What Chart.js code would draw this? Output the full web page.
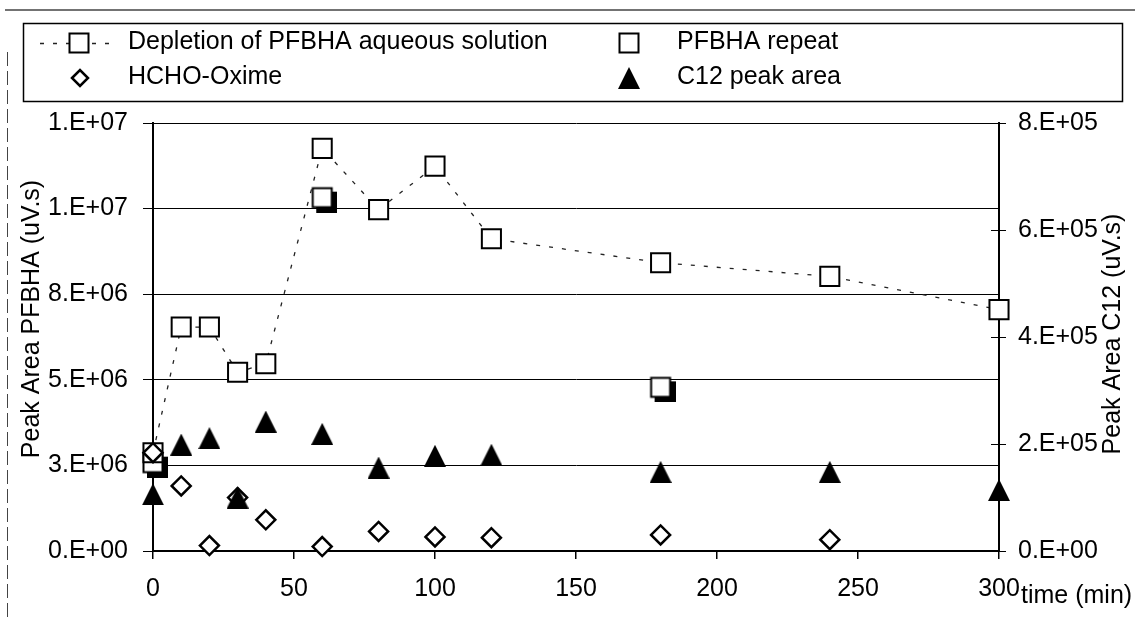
<!DOCTYPE html>
<html>
<head>
<meta charset="utf-8">
<script src="https://cdn.jsdelivr.net/npm/chart.js@4.4.0/dist/chart.umd.min.js"></script>
<style>
  html, body { margin: 0; padding: 0; background: #fff; }
  #wrap { width: 1135px; height: 618px; }
</style>
</head>
<body>
<div id="wrap"><canvas id="c" width="1135" height="618"></canvas></div>
<script>
// values
const depletionTime = [0, 10, 20, 30, 40, 60, 80, 100, 120, 180, 240, 300];
const depletionArea = [2.87e6, 6.54e6, 6.54e6, 5.22e6, 5.47e6, 11.76e6, 9.97e6, 11.24e6, 9.12e6, 8.42e6, 8.02e6, 7.05e6];

const repeatTime = [0, 60, 180];
const repeatArea = [2.58e6, 10.32e6, 4.78e6];

const oximeTime = [0, 10, 20, 30, 40, 60, 80, 100, 120, 180, 240];
const oximeArea = [2.87e6, 1.9e6, 0.16e6, 1.56e6, 0.91e6, 0.13e6, 0.57e6, 0.41e6, 0.39e6, 0.47e6, 0.33e6];

const c12Time = [0, 10, 20, 30, 40, 60, 80, 100, 120, 180, 240, 300];
const c12Area = [1.06e5, 1.99e5, 2.11e5, 1.0e5, 2.42e5, 2.19e5, 1.56e5, 1.78e5, 1.80e5, 1.48e5, 1.48e5, 1.14e5];

const seriesLabels = ['Depletion of PFBHA aqueous solution', 'PFBHA repeat', 'HCHO-Oxime', 'C12 peak area'];
const leftTitle = 'Peak Area PFBHA (uV.s)';
const rightTitle = 'Peak Area C12 (uV.s)';
const xTitle = 'time (min)';

const FONT = "'Liberation Sans', Arial, sans-serif";

function pts(xs, ys) {
    return xs.map((x, i) => ({ x: x, y: ys[i] }));
}

// Excel style 1.E+07 labels
function excelExp(v) {
    const parts = Number(v).toExponential(0).split('e');
    const ex = parseInt(parts[1]);
    return parts[0] + '.E' + (ex < 0 ? '-' : '+') + String(Math.abs(ex)).padStart(2, '0');
}

function makeTriangle(size) {
    const c = document.createElement('canvas');
    c.width = size;
    c.height = size;
    const g = c.getContext('2d');
    g.fillStyle = '#000';
    g.beginPath();
    g.moveTo(size / 2, 0);
    g.lineTo(size, size);
    g.lineTo(0, size);
    g.closePath();
    g.fill();
    return c;
}
const triangle = makeTriangle(22);

// open square with a dark drop shadow, as the repeat markers look in the scan
function makeShadowSquare() {
    const c = document.createElement('canvas');
    c.width = 30;
    c.height = 30;
    const g = c.getContext('2d');
    g.fillStyle = '#000';
    g.fillRect(9, 9, 21, 21);
    g.fillStyle = '#fff';
    g.fillRect(5.5, 5.5, 19, 19);
    g.strokeStyle = '#000';
    g.lineWidth = 2;
    g.strokeRect(5.5, 5.5, 19, 19);
    return c;
}
const shadowSquare = makeShadowSquare();

function drawMarker(ctx, kind, x, y) {
    ctx.save();
    ctx.strokeStyle = '#000';
    ctx.fillStyle = '#fff';
    if (kind === 'rect') {
        ctx.lineWidth = 2;
        ctx.beginPath();
        ctx.rect(x - 9.5, y - 9.5, 19, 19);
        ctx.fill();
        ctx.stroke();
    } else if (kind === 'diamond') {
        ctx.lineWidth = 2.5;
        ctx.beginPath();
        ctx.moveTo(x - 8, y);
        ctx.lineTo(x, y - 8);
        ctx.lineTo(x + 8, y);
        ctx.lineTo(x, y + 8);
        ctx.closePath();
        ctx.fill();
        ctx.stroke();
    } else if (kind === 'triangle') {
        ctx.drawImage(triangle, x - 11, y - 11);
    }
    ctx.restore();
}

const decor = {
    id: 'decor',
    beforeDraw(chart) {
        const ctx = chart.ctx;
        ctx.save();
        ctx.fillStyle = '#fff';
        ctx.fillRect(0, 0, chart.width, chart.height);
        ctx.strokeStyle = '#444';
        ctx.lineWidth = 1.5;
        ctx.beginPath();
        ctx.moveTo(5, 10);
        ctx.lineTo(chart.width, 10);
        ctx.stroke();
        ctx.setLineDash([14, 5]);
        ctx.lineWidth = 1;
        ctx.beginPath();
        ctx.moveTo(7.5, 52);
        ctx.lineTo(7.5, chart.height);
        ctx.stroke();
        ctx.restore();
    }
};

const extras = {
    id: 'extras',
    afterDraw(chart) {
        const ctx = chart.ctx;
        const area = chart.chartArea;
        const y2 = chart.scales.y2;
        ctx.save();

        // cross ticks on the right axis
        ctx.strokeStyle = '#000';
        ctx.lineWidth = 1;
        y2.ticks.forEach(t => {
            const py = Math.round(y2.getPixelForValue(t.value)) + 0.5;
            ctx.beginPath();
            ctx.moveTo(area.right - 8, py);
            ctx.lineTo(area.right, py);
            ctx.stroke();
        });

        // axis titles
        ctx.fillStyle = '#000';
        ctx.font = '25px ' + FONT;
        ctx.textAlign = 'center';
        ctx.textBaseline = 'middle';
        const midY = (area.top + area.bottom) / 2;
        ctx.save();
        ctx.translate(32, midY - 18);
        ctx.rotate(-Math.PI / 2);
        ctx.fillText(leftTitle, 0, 0);
        ctx.restore();
        ctx.save();
        ctx.translate(area.right + 114, midY - 3);
        ctx.rotate(-Math.PI / 2);
        ctx.fillText(rightTitle, 0, 0);
        ctx.restore();
        ctx.textAlign = 'left';
        ctx.textBaseline = 'alphabetic';
        ctx.fillText(xTitle, area.right + 22, area.bottom + 52);

        // legend box
        ctx.strokeStyle = '#000';
        ctx.lineWidth = 1.5;
        ctx.strokeRect(23.5, 23.5, 1099, 78);

        ctx.font = '25px ' + FONT;
        ctx.textBaseline = 'middle';
        ctx.textAlign = 'left';

        // depletion: dashed line sample + square
        ctx.save();
        ctx.strokeStyle = '#222';
        ctx.lineWidth = 1.3;
        ctx.setLineDash([4, 9]);
        ctx.beginPath();
        ctx.moveTo(40, 43.5);
        ctx.lineTo(118, 43.5);
        ctx.stroke();
        ctx.restore();
        drawMarker(ctx, 'rect', 79, 43);
        ctx.fillText(seriesLabels[0], 128, 42);

        drawMarker(ctx, 'rect', 629, 43);
        ctx.fillText(seriesLabels[1], 677, 42);

        drawMarker(ctx, 'diamond', 80, 78);
        ctx.fillText(seriesLabels[2], 128, 77);

        drawMarker(ctx, 'triangle', 629, 78);
        ctx.fillText(seriesLabels[3], 677, 77);

        ctx.restore();
    }
};

const ctx = document.getElementById('c').getContext('2d');
new Chart(ctx, {
    type: 'scatter',
    data: {
        datasets: [
            {
                label: seriesLabels[3],
                data: pts(c12Time, c12Area),
                yAxisID: 'y2',
                pointStyle: triangle,
                pointRadius: 11,
                clip: false,
                order: 0
            },
            {
                label: seriesLabels[2],
                data: pts(oximeTime, oximeArea),
                yAxisID: 'y',
                pointStyle: 'rectRot',
                pointRadius: 9.5,
                pointBorderWidth: 2.5,
                pointBorderColor: '#000',
                pointBackgroundColor: '#fff',
                clip: false,
                order: 1
            },
            {
                label: seriesLabels[0],
                data: pts(depletionTime, depletionArea),
                yAxisID: 'y',
                showLine: true,
                borderColor: '#222',
                borderWidth: 1.3,
                borderDash: [4, 9],
                tension: 0,
                pointStyle: 'rect',
                pointRadius: 13.5,
                pointBorderWidth: 2,
                pointBorderColor: '#000',
                pointBackgroundColor: '#fff',
                clip: false,
                order: 2
            },
            {
                label: seriesLabels[1],
                data: pts(repeatTime, repeatArea),
                yAxisID: 'y',
                pointStyle: shadowSquare,
                pointRadius: 15,
                clip: false,
                order: 3
            }
        ]
    },
    options: {
        responsive: false,
        animation: false,
        layout: { padding: { top: 123, left: 0, right: 0, bottom: 0 } },
        plugins: {
            legend: { display: false },
            tooltip: { enabled: false }
        },
        scales: {
            x: {
                type: 'linear',
                position: 'bottom',
                min: 0,
                max: 300,
                ticks: {
                    stepSize: 50,
                    color: '#000',
                    font: { family: FONT, size: 25 },
                    padding: 15,
                    maxRotation: 0
                },
                grid: { drawOnChartArea: false, drawTicks: true, tickLength: 8, color: '#000', lineWidth: 1.5 },
                border: { color: '#000', width: 2 },
                afterFit: s => { s.height = 67; }
            },
            y: {
                position: 'left',
                min: 0,
                max: 1.25e7,
                ticks: {
                    stepSize: 2.5e6,
                    color: '#000',
                    font: { family: FONT, size: 25 },
                    padding: 15,
                    callback: v => excelExp(v)
                },
                grid: { color: '#000', lineWidth: 1, tickLength: 10 },
                border: { color: '#000', width: 2 },
                afterFit: s => { s.width = 153; }
            },
            y2: {
                position: 'right',
                min: 0,
                max: 8e5,
                ticks: {
                    stepSize: 2e5,
                    color: '#000',
                    font: { family: FONT, size: 25 },
                    padding: 12,
                    callback: v => excelExp(v)
                },
                grid: { drawOnChartArea: false, color: '#000', lineWidth: 1, tickLength: 7 },
                border: { color: '#000', width: 2 },
                afterFit: s => { s.width = 136; }
            }
        }
    },
    plugins: [decor, extras]
});
</script>
</body>
</html>
